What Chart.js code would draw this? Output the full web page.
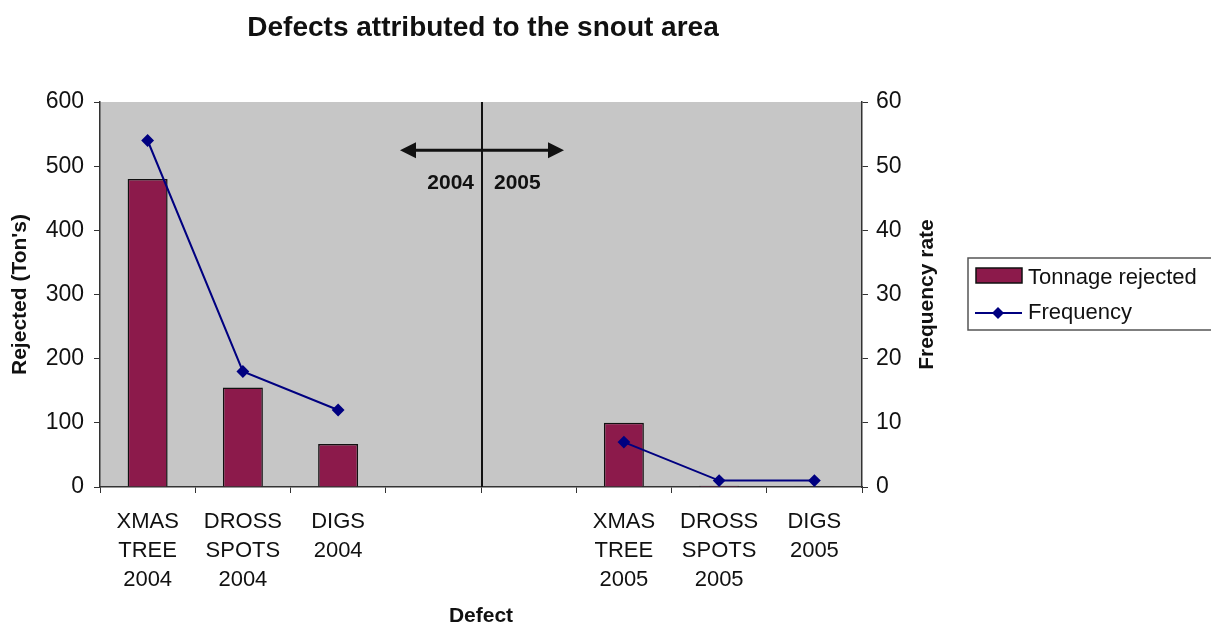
<!DOCTYPE html>
<html>
<head>
<meta charset="utf-8">
<script src="https://cdn.jsdelivr.net/npm/chart.js@4"></script>
<style>
  html, body { margin: 0; padding: 0; background: #fff; }
  #wrap { width: 1211px; height: 625px; }
</style>
</head>
<body>
<div id="wrap"><canvas id="snoutChart" width="1211" height="625"></canvas></div>
<script>
// chart data
const categories = [
    ['XMAS', 'TREE', '2004'],
    ['DROSS', 'SPOTS', '2004'],
    ['DIGS', '2004'],
    '',
    '',
    ['XMAS', 'TREE', '2005'],
    ['DROSS', 'SPOTS', '2005'],
    ['DIGS', '2005']
];
const tonnageRejected = [480, 155, 67, null, null, 100, 2, 1];
const frequencyRate = [54, 18, 12, null, null, 7, 1, 1];
const yearLabels = ['2004', '2005'];

const FONT = "'Liberation Sans', Arial, sans-serif";
const BAR_COLOR = '#8c1a4b';
const LINE_COLOR = '#000080';
const CHART_TITLE = 'Defects attributed to the snout area';
const RIGHT_TITLE = 'Frequency rate';

// grey plot background
const plotBackground = {
    id: 'plotBackground',
    beforeDraw(chart) {
        const { ctx, chartArea: a } = chart;
        ctx.save();
        ctx.fillStyle = '#c6c6c6';
        ctx.fillRect(a.left, a.top, a.right - a.left, a.bottom - a.top);
        ctx.restore();
    }
};

// title centred over the plot and the right axis title read bottom-up
const titles = {
    id: 'titles',
    afterDraw(chart) {
        const { ctx, chartArea: a } = chart;
        ctx.save();
        ctx.fillStyle = '#111';
        ctx.textAlign = 'center';
        ctx.textBaseline = 'middle';
        ctx.font = 'bold 28px ' + FONT;
        ctx.fillText(CHART_TITLE, (a.left + a.right) / 2 + 2, 28);

        ctx.font = 'bold 21px ' + FONT;
        ctx.translate(927, (a.top + a.bottom) / 2);
        ctx.rotate(-Math.PI / 2);
        ctx.fillText(RIGHT_TITLE, 0, 0);
        ctx.restore();
    }
};

// divider between the two years + double arrow
const yearDivider = {
    id: 'yearDivider',
    afterDatasetsDraw(chart) {
        const { ctx, chartArea: a } = chart;
        const x = chart.scales.x;
        const y = chart.scales.y;
        const mid = (x.getPixelForValue(3) + x.getPixelForValue(4)) / 2 + 1;
        const arrowY = y.getPixelForValue(525);
        const textY = y.getPixelForValue(474);
        const half = 82;

        ctx.save();
        ctx.strokeStyle = '#111';
        ctx.fillStyle = '#111';
        ctx.lineWidth = 2;
        ctx.beginPath();
        ctx.moveTo(mid, a.top);
        ctx.lineTo(mid, a.bottom);
        ctx.stroke();

        ctx.lineWidth = 3;
        ctx.beginPath();
        ctx.moveTo(mid - half + 12, arrowY);
        ctx.lineTo(mid + half - 12, arrowY);
        ctx.stroke();
        // arrow heads
        ctx.beginPath();
        ctx.moveTo(mid - half, arrowY);
        ctx.lineTo(mid - half + 16, arrowY - 8);
        ctx.lineTo(mid - half + 16, arrowY + 8);
        ctx.closePath();
        ctx.fill();
        ctx.beginPath();
        ctx.moveTo(mid + half, arrowY);
        ctx.lineTo(mid + half - 16, arrowY - 8);
        ctx.lineTo(mid + half - 16, arrowY + 8);
        ctx.closePath();
        ctx.fill();

        ctx.font = 'bold 21px ' + FONT;
        ctx.textBaseline = 'middle';
        ctx.textAlign = 'right';
        ctx.fillText(yearLabels[0], mid - 8, textY);
        ctx.textAlign = 'left';
        ctx.fillText(yearLabels[1], mid + 12, textY);
        ctx.restore();
    }
};

// boxed legend on the right, like the original
const boxLegend = {
    id: 'boxLegend',
    afterDraw(chart) {
        const { ctx } = chart;
        const ds = chart.data.datasets;
        const bx = 968, by = 258, bw = 260, bh = 72;
        ctx.save();
        ctx.fillStyle = '#fff';
        ctx.strokeStyle = '#555';
        ctx.lineWidth = 1.5;
        ctx.fillRect(bx, by, bw, bh);
        ctx.strokeRect(bx, by, bw, bh);

        ctx.font = '22px ' + FONT;
        ctx.textBaseline = 'middle';
        ctx.textAlign = 'left';

        // bar entry
        ctx.fillStyle = ds[0].backgroundColor;
        ctx.fillRect(976, 268, 46, 15);
        ctx.strokeStyle = '#111';
        ctx.lineWidth = 1.5;
        ctx.strokeRect(976, 268, 46, 15);
        ctx.fillStyle = '#111';
        ctx.fillText(ds[0].label, 1028, 278);

        // line entry
        ctx.strokeStyle = ds[1].borderColor;
        ctx.lineWidth = 2;
        ctx.beginPath();
        ctx.moveTo(975, 313);
        ctx.lineTo(1022, 313);
        ctx.stroke();
        ctx.fillStyle = ds[1].borderColor;
        ctx.beginPath();
        ctx.moveTo(998, 307);
        ctx.lineTo(1004, 313);
        ctx.lineTo(998, 319);
        ctx.lineTo(992, 313);
        ctx.closePath();
        ctx.fill();
        ctx.fillStyle = '#111';
        ctx.fillText(ds[1].label, 1028, 313);
        ctx.restore();
    }
};

const ctx = document.getElementById('snoutChart');
new Chart(ctx, {
    type: 'bar',
    data: {
        labels: categories,
        datasets: [
            {
                type: 'bar',
                label: 'Tonnage rejected',
                data: tonnageRejected,
                yAxisID: 'y',
                backgroundColor: BAR_COLOR,
                borderColor: '#111',
                borderWidth: 1.5,
                categoryPercentage: 1,
                barPercentage: 0.42,
                order: 2
            },
            {
                type: 'line',
                label: 'Frequency',
                data: frequencyRate,
                yAxisID: 'y1',
                borderColor: LINE_COLOR,
                backgroundColor: LINE_COLOR,
                borderWidth: 2,
                pointStyle: 'rectRot',
                pointRadius: 5,
                tension: 0,
                spanGaps: false,
                order: 1
            }
        ]
    },
    options: {
        responsive: false,
        animation: false,
        layout: { padding: { left: 0, right: 267, top: 102, bottom: 0 } },
        plugins: {
            legend: { display: false },
            tooltip: { enabled: false },
            title: { display: false }
        },
        scales: {
            x: {
                offset: true,
                grid: { display: true, drawOnChartArea: false, offset: true, tickLength: 6, color: '#333', tickColor: '#333' },
                border: { color: '#333', width: 1.5 },
                ticks: { color: '#111', padding: 14, maxRotation: 0, autoSkip: false,
                    font: { family: FONT, size: 22, lineHeight: 1.32 } },
                title: { display: true, text: 'Defect', color: '#111',
                    font: { family: FONT, size: 21, weight: 'bold', lineHeight: 0.8 },
                    padding: { top: 0, bottom: 0 } },
                afterFit(scale) { scale.height = 138; }
            },
            y: {
                position: 'left',
                min: 0, max: 600,
                ticks: { stepSize: 100, color: '#111', padding: 10,
                    font: { family: FONT, size: 23 } },
                grid: { drawOnChartArea: false, tickLength: 6, color: '#333', tickColor: '#333' },
                border: { color: '#333', width: 1.5 },
                title: { display: true, text: "Rejected (Ton's)", color: '#111',
                    font: { family: FONT, size: 21, weight: 'bold', lineHeight: 1.2 },
                    padding: { top: 8, bottom: 0 } },
                afterFit(scale) { scale.width = 100; }
            },
            y1: {
                position: 'right',
                min: 0, max: 60,
                ticks: { stepSize: 10, color: '#111', padding: 8,
                    font: { family: FONT, size: 23 } },
                grid: { drawOnChartArea: false, tickLength: 6, color: '#333', tickColor: '#333' },
                border: { color: '#333', width: 1.5 },
                title: { display: false },
                afterFit(scale) { scale.width = 82; }
            }
        }
    },
    plugins: [plotBackground, yearDivider, titles, boxLegend]
});
</script>
</body>
</html>
